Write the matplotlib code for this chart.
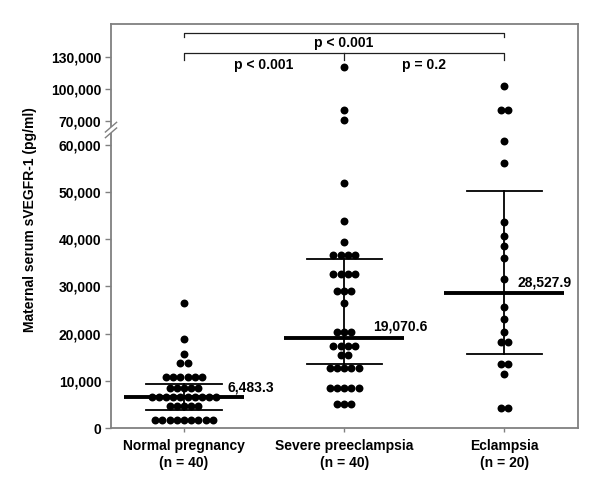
import numpy as np
import matplotlib
matplotlib.use("Agg")
import matplotlib.pyplot as plt

plt.rcParams['font.family'] = ['Liberation Sans', 'DejaVu Sans']
plt.rcParams['font.weight'] = 'bold'
plt.rcParams['axes.labelweight'] = 'bold'

# ---------------- data ----------------
categories = ["Normal pregnancy\n(n = 40)", "Severe preeclampsia\n(n = 40)", "Eclampsia\n(n = 20)"]

normal_vals = [26400, 18800, 15700] + [13700]*2 + [10700]*6 + [8400]*5 + [6500]*10 + [4700]*5 + [1700]*9
severe_vals = [120600, 80000, 70600, 51800, 43800, 39300] + [36700]*4 + [32600]*4 + [29000]*3 + [26500] \
    + [20400]*3 + [17400]*4 + [15500]*2 + [12800]*5 + [8400]*5 + [5100]*3
eclampsia_vals = [102800] + [80000]*2 + [60900, 56200, 43700, 40700, 38600, 36000, 31500, 25700, 23000, 20400] \
    + [18300]*2 + [13500]*2 + [11400] + [4200]*2

means = [6483.3, 19070.6, 28527.9]
mean_labels = ["6,483.3", "19,070.6", "28,527.9"]
upper_bars = [9300, 35700, 50300]
lower_bars = [3800, 13500, 15600]

yticks = [0, 10000, 20000, 30000, 40000, 50000, 60000, 70000, 100000, 130000]
ytick_labels = ["0", "10,000", "20,000", "30,000", "40,000", "50,000", "60,000", "70,000", "100,000", "130,000"]

p_top = "p < 0.001"
p_left = "p < 0.001"
p_right = "p = 0.2"

# ---------------- broken y scale ----------------
B = 63680.0
R = 0.226

def fwd(v):
    v = np.asarray(v, dtype=float)
    return np.where(v <= B, v, B + (v - B) * R)

def inv(u):
    u = np.asarray(u, dtype=float)
    return np.where(u <= B, u, B + (u - B) / R)

fig = plt.figure(figsize=(6.01, 4.90), dpi=100)
ax = fig.add_axes([111/601, 62/490, 467/601, 404/490])
ax.set_yscale('function', functions=(fwd, inv))
ax.set_ylim(0, 160600)
ax.set_xlim(-0.456, 2.46)

gray = '#808080'
for s in ax.spines.values():
    s.set_color(gray)
    s.set_linewidth(1.3)

# ---------------- beeswarm dots ----------------
spacing = 7.2 / 160.0
groups = [normal_vals, severe_vals, eclampsia_vals]
for i, vals in enumerate(groups):
    uniq = []
    for v in vals:
        if v not in uniq:
            uniq.append(v)
    xs, ys = [], []
    for v in uniq:
        n = vals.count(v)
        offs = (np.arange(n) - (n - 1) / 2.0) * spacing
        xs.extend(i + offs)
        ys.extend([v] * n)
    ax.plot(xs, ys, 'o', color='black', markersize=5.7, markeredgewidth=0, zorder=3, clip_on=False)

# ---------------- mean and bars ----------------
for i in range(3):
    ax.plot([i - 0.375, i + 0.375], [means[i]] * 2, color='black', lw=2.8, zorder=4, solid_capstyle='butt')
    ax.plot([i - 0.235, i + 0.235], [upper_bars[i]] * 2, color='black', lw=1.3, zorder=4)
    ax.plot([i - 0.235, i + 0.235], [lower_bars[i]] * 2, color='black', lw=1.3, zorder=4)
    ax.plot([i, i], [lower_bars[i], upper_bars[i]], color='black', lw=1.3, zorder=4)

label_pos = [(0.27, 8500), (0.18, 21500), (0.08, 30900)]
for i in range(3):
    dx, yv = label_pos[i]
    ax.text(i + dx, yv, mean_labels[i], fontsize=10, ha='left', va='center', zorder=5)

# ---------------- brackets ----------------
bc = '#202020'
ax.plot([0, 0, 2, 2], [148400, 152200, 152200, 148400], color=bc, lw=0.9)
ax.text(1, 142900, p_top, ha='center', va='center', fontsize=10)
ax.plot([0, 0, 2, 2], [126900, 133100, 133100, 126900], color=bc, lw=0.9)
ax.plot([1, 1], [133100, 126900], color=bc, lw=0.9)
ax.text(0.5, 122200, p_left, ha='center', va='center', fontsize=10)
ax.text(1.5, 122200, p_right, ha='center', va='center', fontsize=10)

# ---------------- ticks ----------------
ax.set_yticks(yticks)
ax.set_yticklabels(ytick_labels, fontsize=10)
ax.yaxis.set_minor_locator(matplotlib.ticker.NullLocator())
ax.set_xticks([0, 1, 2])
ax.set_xticklabels(categories, fontsize=10, linespacing=1.3)
ax.tick_params(axis='y', length=4.5, width=1, color=gray, pad=2.5)
ax.tick_params(axis='x', length=3, width=1, color=gray, pad=5)
ax.set_ylabel("Maternal serum sVEGFR-1 (pg/ml)", fontsize=10, fontweight='bold')
ax.yaxis.set_label_coords((37 - 111) / 467, (428 - 220) / 404)

# ---------------- axis break marks ----------------
by = 1 - (130 - 24) / 404.0
ax.add_patch(plt.Rectangle((-0.02, by - 0.008), 0.04, 0.016, transform=ax.transAxes,
                           facecolor='white', edgecolor='none', clip_on=False, zorder=6))
for d in (-0.007, 0.007):
    ax.plot([-0.012, 0.012], [by + d - 0.012, by + d + 0.012], transform=ax.transAxes,
            color=gray, lw=1.0, clip_on=False, zorder=7)

fig.savefig("out.png", dpi=100)
